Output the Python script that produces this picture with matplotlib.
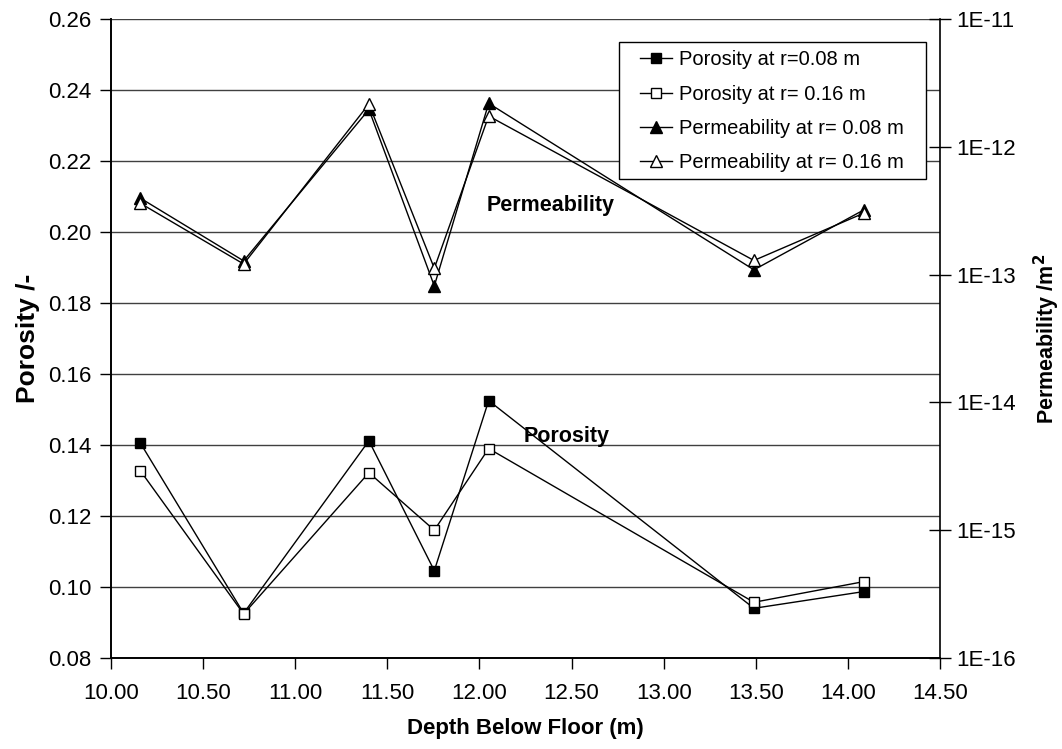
import math
import matplotlib
matplotlib.use("Agg")
import matplotlib.pyplot as plt
from matplotlib.patches import Rectangle
from matplotlib.ticker import FixedLocator, FuncFormatter, NullLocator

plt.rcParams['font.family'] = ['Liberation Sans', 'DejaVu Sans']

# глубина ниже пола, м
depth = [10.16, 10.72, 11.40, 11.755, 12.05, 13.49, 14.085]

# пористость
por_008 = [0.1405, 0.0926, 0.1412, 0.1046, 0.1525, 0.0940, 0.0987]
por_016 = [0.1327, 0.0924, 0.1322, 0.1160, 0.1390, 0.0957, 0.1015]

# проницаемость, м^2
perm_008 = [3.96e-13, 1.28e-13, 1.96e-12, 8.15e-14, 2.19e-12, 1.09e-13, 3.2e-13]
perm_016 = [3.61e-13, 1.21e-13, 2.16e-12, 1.12e-13, 1.74e-12, 1.29e-13, 3.02e-13]

x_ticks = [10.0, 10.5, 11.0, 11.5, 12.0, 12.5, 13.0, 13.5, 14.0, 14.5]
por_ticks = [0.08, 0.10, 0.12, 0.14, 0.16, 0.18, 0.20, 0.22, 0.24, 0.26]
perm_ticks = [1e-16, 1e-15, 1e-14, 1e-13, 1e-12, 1e-11]

W, H = 1062, 749
fig = plt.figure(figsize=(W / 100, H / 100), dpi=100)
ax1 = fig.add_axes([111 / W, 1 - 658 / H, 829 / W, 639 / H])
ax2 = ax1.twinx()

fs = 16
ms = 7.2

# пористость - левая ось
ax1.plot(depth, por_008, color='black', lw=1, marker='s', ms=ms,
         mfc='black', mec='black', label='Porosity at r=0.08 m')
ax1.plot(depth, por_016, color='black', lw=1, marker='s', ms=ms,
         mfc='white', mec='black', label='Porosity at r= 0.16 m')

# проницаемость - правая ось (лог.)
ax2.plot(depth, perm_008, color='black', lw=1, marker='^', ms=ms + 0.8,
         mfc='black', mec='black', label='Permeability at r= 0.08 m')
ax2.plot(depth, perm_016, color='black', lw=1, marker='^', ms=ms + 0.8,
         mfc='white', mec='black', label='Permeability at r= 0.16 m')

ax1.set_xlim(10.0, 14.5)
ax1.set_ylim(0.08, 0.26)
ax1.set_xticks(x_ticks)
ax1.set_xticklabels(['%.2f' % v for v in x_ticks])
ax1.set_yticks(por_ticks)
ax1.set_yticklabels(['%.2f' % v for v in por_ticks])
ax1.grid(axis='y', color='#404040', lw=1)
ax1.set_axisbelow(True)

ax2.set_yscale('log')
ax2.set_ylim(1e-16, 1e-11)
ax2.yaxis.set_major_locator(FixedLocator(perm_ticks))
ax2.yaxis.set_minor_locator(NullLocator())
ax2.yaxis.set_major_formatter(FuncFormatter(lambda v, p: '1E%d' % round(math.log10(v))))

for ax in (ax1, ax2):
    ax.spines['top'].set_visible(False)
    for s in ('left', 'right', 'bottom'):
        ax.spines[s].set_linewidth(1.2)
ax1.spines['right'].set_visible(False)

ax1.tick_params(axis='y', direction='out', length=8, width=1, labelsize=fs, pad=6)
ax1.tick_params(axis='x', direction='out', length=8, width=1, labelsize=fs, pad=10)
ax2.tick_params(axis='y', direction='inout', length=16, width=1, labelsize=fs, pad=4)

ax1.set_xlabel('Depth Below Floor (m)', fontsize=fs, fontweight='bold', labelpad=10)
ax1.set_ylabel('Porosity /-', fontsize=19, fontweight='bold', labelpad=6)
ax2.set_ylabel('Permeability /m$^\\mathbf{2}$', fontsize=15.5, fontweight='bold', labelpad=11)

ax1.text(12.04, 0.2076, 'Permeability', fontsize=15.5, fontweight='bold',
         ha='left', va='center')
ax1.text(12.24, 0.1423, 'Porosity', fontsize=15.5, fontweight='bold',
         ha='left', va='center')

# рамка легенды
box = Rectangle((619 / W, 1 - 179 / H), 307 / W, 137 / H, transform=fig.transFigure,
                facecolor='white', edgecolor='black', lw=1, zorder=4, clip_on=False)
ax2.add_patch(box)

h1, l1 = ax1.get_legend_handles_labels()
h2, l2 = ax2.get_legend_handles_labels()
leg = ax2.legend(h1 + h2, l1 + l2, loc='center left',
                 bbox_to_anchor=(640 / W, 1 - 111.3 / H), bbox_transform=fig.transFigure,
                 fontsize=14.5, frameon=False, handlelength=1.6, handletextpad=0.35,
                 borderpad=0, labelspacing=0.76, borderaxespad=0)
leg.set_zorder(5)

fig.savefig('out.png', dpi=100)
